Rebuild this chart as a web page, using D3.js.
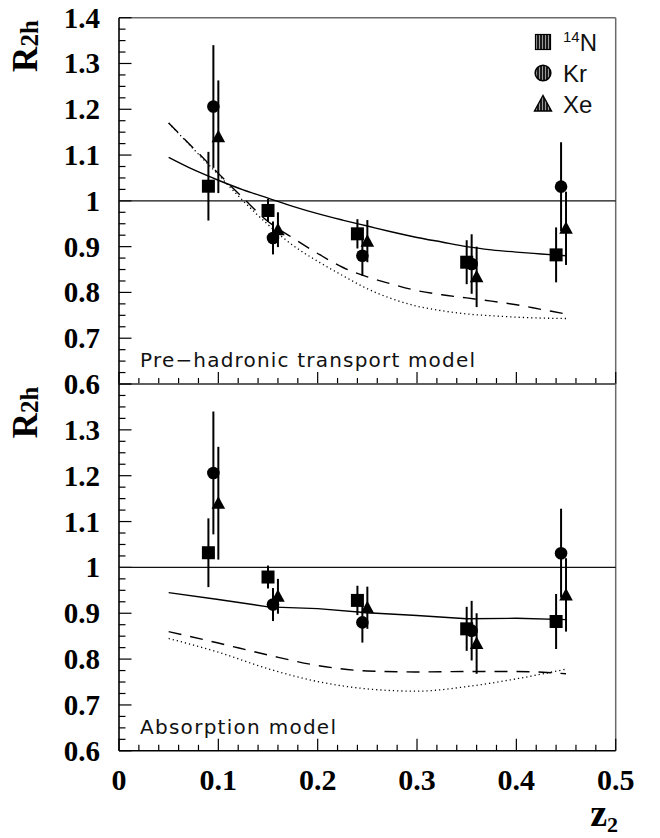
<!DOCTYPE html>
<html>
<head>
<meta charset="utf-8">
<script src="https://cdn.jsdelivr.net/npm/d3@7"></script>
<style>
  html, body { margin: 0; padding: 0; background: #fff; }
</style>
</head>
<body>
<div id="chart"></div>
<script>
// measured points (same data in both panels)
const zN  = [0.090, 0.150, 0.240, 0.350, 0.440];
const rN  = [1.032, 0.979, 0.928, 0.866, 0.882];
const eN  = [0.075, 0.025, 0.032, 0.048, 0.060];

const zKr = [0.095, 0.155, 0.245, 0.355, 0.445];
const rKr = [1.206, 0.919, 0.880, 0.862, 1.031];
const eKr = [0.134, 0.036, 0.044, 0.065, 0.097];

const zXe = [0.100, 0.160, 0.250, 0.360, 0.450];
const rXe = [1.140, 0.937, 0.912, 0.834, 0.940];
const eXe = [0.123, 0.038, 0.046, 0.066, 0.080];

// model curves, top panel (pre-hadronic transport)
const zTop = [0.05, 0.075, 0.1, 0.125, 0.15, 0.175, 0.2, 0.225, 0.25, 0.275, 0.3, 0.325, 0.35, 0.375, 0.4, 0.425, 0.45];
const topSolid = [1.095, 1.068, 1.045, 1.024, 1.006, 0.988, 0.972, 0.958, 0.945, 0.932, 0.920, 0.910, 0.900, 0.893, 0.888, 0.884, 0.880];
const topDash = [1.170, 1.115, 1.060, 1.006, 0.955, 0.919, 0.885, 0.855, 0.834, 0.818, 0.804, 0.795, 0.788, 0.781, 0.773, 0.763, 0.753];
const topDot = [1.170, 1.113, 1.057, 1.000, 0.948, 0.903, 0.868, 0.837, 0.808, 0.786, 0.770, 0.760, 0.753, 0.749, 0.746, 0.744, 0.743];

// model curves, bottom panel (absorption)
const zBot = [0.05, 0.1, 0.15, 0.2, 0.25, 0.3, 0.35, 0.4, 0.45];
const botSolid = [0.945, 0.930, 0.914, 0.910, 0.901, 0.895, 0.888, 0.889, 0.886];
const botDash = [0.860, 0.835, 0.809, 0.786, 0.774, 0.772, 0.773, 0.773, 0.768];
const botDot = [0.845, 0.815, 0.779, 0.751, 0.735, 0.730, 0.740, 0.757, 0.778];

const xTicks = [0, 0.1, 0.2, 0.3, 0.4, 0.5];
const xTickLabels = ["0", "0.1", "0.2", "0.3", "0.4", "0.5"];
const yTicksTop = [0.6, 0.7, 0.8, 0.9, 1.0, 1.1, 1.2, 1.3, 1.4];
const yTicksBot = [0.6, 0.7, 0.8, 0.9, 1.0, 1.1, 1.2, 1.3];
const legendNames = ["N", "Kr", "Xe"];
const panelTexts = ["Pre\u2212hadronic transport model", "Absorption model"];

const W = 660, H = 838;
const svg = d3.select("#chart").append("svg")
    .attr("width", W)
    .attr("height", H)
    .style("background", "#fff");

const defs = svg.append("defs");
const pat = defs.append("pattern")
    .attr("id", "vstripe")
    .attr("width", 3).attr("height", 3)
    .attr("patternUnits", "userSpaceOnUse");
pat.append("rect").attr("width", 3).attr("height", 3).attr("fill", "#1a1a1a");
pat.append("rect").attr("x", 2).attr("width", 1).attr("height", 3).attr("fill", "#9a9a9a");

const x = d3.scaleLinear().domain([0, 0.5]).range([119, 615.7]);
const yTop = d3.scaleLinear().domain([0.6, 1.4]).range([384, 17.7]);
const yBot = d3.scaleLinear().domain([0.6, 1.4]).range([750.8, 384]);

const serif = "'Liberation Serif', 'Times New Roman', serif";
const sans = "'DejaVu Sans', sans-serif";
const fmt = v => (Math.abs(v - 1) < 1e-9 ? "1" : v.toFixed(1));

function drawPanel(y, yLabels, curves, label, labelLen) {
    const x0 = x.range()[0], x1 = x.range()[1];
    const yB = y.range()[0], yT = y.range()[1];
    const g = svg.append("g");

    // frame: grey top/right, black axes
    g.append("line").attr("x1", x0).attr("x2", x1).attr("y1", yT).attr("y2", yT)
        .attr("stroke", "#6a6a6a").attr("stroke-width", 1.5);
    g.append("line").attr("x1", x1).attr("x2", x1).attr("y1", yT).attr("y2", yB)
        .attr("stroke", "#6a6a6a").attr("stroke-width", 1.5);

    // y axis ticks (inside)
    const yMinor = d3.range(0, 33).map(i => 0.6 + i * 0.025);
    g.selectAll(".ytick").data(yMinor).enter().append("line")
        .attr("x1", x0)
        .attr("x2", (d, i) => x0 + (i % 4 === 0 ? 12.5 : 6.5))
        .attr("y1", d => y(d)).attr("y2", d => y(d))
        .attr("stroke", "#000").attr("stroke-width", 1.2);

    // x axis ticks (inside)
    const xMinor = d3.range(0, 26).map(i => i * 0.02);
    g.selectAll(".xtick").data(xMinor).enter().append("line")
        .attr("x1", d => x(d)).attr("x2", d => x(d))
        .attr("y1", yB)
        .attr("y2", (d, i) => yB - (i % 5 === 0 ? 12 : 6))
        .attr("stroke", "#000").attr("stroke-width", 1.2);

    g.append("line").attr("x1", x0).attr("x2", x0).attr("y1", yT).attr("y2", yB)
        .attr("stroke", "#000").attr("stroke-width", 1.6);
    g.append("line").attr("x1", x0).attr("x2", x1).attr("y1", yB).attr("y2", yB)
        .attr("stroke", "#000").attr("stroke-width", 1.6);

    // y tick labels
    g.selectAll(".ylab").data(yLabels).enter().append("text")
        .attr("x", 100)
        .attr("y", d => y(d) + 10)
        .attr("text-anchor", "end")
        .style("font-family", serif)
        .style("font-weight", "bold")
        .style("font-size", "29px")
        .text(fmt);

    // y title, rotated, ending near the top of the axis
    const tg = g.append("g")
        .attr("transform", "translate(37," + (yT + 2.5) + ") rotate(-90)");
    const t = tg.append("text")
        .attr("text-anchor", "end")
        .style("font-family", serif)
        .style("font-weight", "bold");
    t.append("tspan").style("font-size", "35px").text("R");
    t.append("tspan").attr("dy", 1).style("font-size", "25px").text("2h");

    // reference line at 1
    g.append("line").attr("x1", x0).attr("x2", x1).attr("y1", y(1)).attr("y2", y(1))
        .attr("stroke", "#111").attr("stroke-width", 1.1);

    // model curves
    curves.forEach(c => {
        const pts = c.z.map((z, i) => [z, c.v[i]]);
        g.append("path")
            .datum(pts)
            .attr("fill", "none")
            .attr("stroke", "#000")
            .attr("stroke-width", c.w)
            .attr("stroke-dasharray", c.dash)
            .attr("d", d3.line().curve(c.curve).x(d => x(d[0])).y(d => y(d[1])));
    });

    // data with error bars
    const sets = [
        { z: zN, r: rN, e: eN, shape: "square" },
        { z: zKr, r: rKr, e: eKr, shape: "circle" },
        { z: zXe, r: rXe, e: eXe, shape: "triangle" }
    ];
    sets.forEach(s => {
        const pts = s.z.map((z, i) => ({ z, r: s.r[i], e: s.e[i] }));
        g.selectAll(null).data(pts).enter().append("line")
            .attr("x1", d => x(d.z)).attr("x2", d => x(d.z))
            .attr("y1", d => y(d.r + d.e)).attr("y2", d => y(d.r - d.e))
            .attr("stroke", "#000").attr("stroke-width", 2);
    });
    sets.forEach(s => {
        const pts = s.z.map((z, i) => ({ z, r: s.r[i] }));
        const m = g.selectAll(null).data(pts).enter();
        if (s.shape === "square") {
            m.append("rect")
                .attr("x", d => x(d.z) - 6.5).attr("y", d => y(d.r) - 6.5)
                .attr("width", 13).attr("height", 13).attr("fill", "#000");
        } else if (s.shape === "circle") {
            m.append("circle")
                .attr("cx", d => x(d.z)).attr("cy", d => y(d.r))
                .attr("r", 6.3).attr("fill", "#000");
        } else {
            m.append("path")
                .attr("transform", d => `translate(${x(d.z)},${y(d.r)})`)
                .attr("d", "M0,-7 L6.8,5.5 L-6.8,5.5 Z").attr("fill", "#000");
        }
    });

    // model name
    g.append("text")
        .attr("x", 140)
        .attr("y", yB - 17)
        .attr("textLength", labelLen)
        .attr("lengthAdjust", "spacing")
        .style("font-family", sans)
        .style("font-size", "20px")
        .style("fill", "#111")
        .text(label);
}

drawPanel(yTop, yTicksTop, [
    { z: zTop, v: topSolid, w: 1.4, dash: null, curve: d3.curveMonotoneX },
    { z: zTop, v: topDash, w: 1.4, dash: "13,9", curve: d3.curveMonotoneX },
    { z: zTop, v: topDot, w: 1.3, dash: "1.2,3", curve: d3.curveMonotoneX }
], panelTexts[0], 335);

drawPanel(yBot, yTicksBot, [
    { z: zBot, v: botSolid, w: 1.4, dash: null, curve: d3.curveLinear },
    { z: zBot, v: botDash, w: 1.4, dash: "13,9", curve: d3.curveMonotoneX },
    { z: zBot, v: botDot, w: 1.3, dash: "1.2,3", curve: d3.curveMonotoneX }
], panelTexts[1], 196);

// x tick labels
svg.selectAll(".xlab").data(xTicks).enter().append("text")
    .attr("x", d => x(d))
    .attr("y", 790)
    .attr("text-anchor", "middle")
    .style("font-family", serif)
    .style("font-weight", "bold")
    .style("font-size", "30px")
    .text((d, i) => xTickLabels[i]);

// x title
const xt = svg.append("text")
    .attr("x", 618)
    .attr("y", 826)
    .attr("text-anchor", "end")
    .style("font-family", serif)
    .style("font-weight", "bold");
xt.append("tspan").style("font-size", "38px").text("z");
xt.append("tspan").attr("dy", 6).style("font-size", "22px").text("2");

// legend
const legY = [42, 73, 104];
const lg = svg.append("g");
lg.append("rect").attr("x", 535.5).attr("y", legY[0] - 7.5).attr("width", 15).attr("height", 15)
    .attr("fill", "url(#vstripe)").attr("stroke", "#000").attr("stroke-width", 1.2);
lg.append("circle").attr("cx", 543).attr("cy", legY[1]).attr("r", 7.8)
    .attr("fill", "url(#vstripe)").attr("stroke", "#000").attr("stroke-width", 1.6);
lg.append("path").attr("transform", `translate(543,${legY[2]})`)
    .attr("d", "M0,-8.5 L8.5,7 L-8.5,7 Z")
    .attr("fill", "url(#vstripe)").attr("stroke", "#000").attr("stroke-width", 1.4);

legendNames.forEach((name, i) => {
    const tx = lg.append("text")
        .attr("x", 563)
        .attr("y", legY[i] + 8.5)
        .style("font-family", "'Liberation Sans', Arial, sans-serif")
        .style("font-size", "24px")
        .style("fill", "#111");
    if (i === 0) {
        tx.append("tspan").attr("dy", -9).style("font-size", "15px").text("14");
        tx.append("tspan").attr("dy", 9).text(name);
    } else {
        tx.text(name);
    }
});
</script>
</body>
</html>
